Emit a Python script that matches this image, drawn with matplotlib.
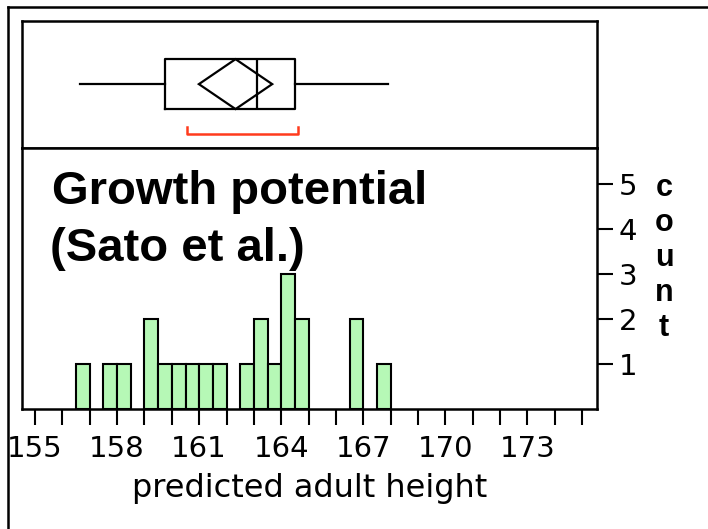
import matplotlib.pyplot as plt
from matplotlib.lines import Line2D
from matplotlib.patches import Polygon

# histogram of predicted adult height, 0.5 cm bins
bin_left = [156.5, 157.0, 157.5, 158.0, 158.5, 159.0, 159.5, 160.0, 160.5, 161.0, 161.5, 162.0,
            162.5, 163.0, 163.5, 164.0, 164.5, 165.0, 165.5, 166.0, 166.5, 167.0, 167.5]
counts = [1, 0, 1, 1, 0, 2, 1, 1, 1, 1, 1, 0,
          1, 2, 1, 3, 2, 0, 0, 0, 2, 0, 1]
bin_width = 0.5

# outlier box plot summary
whisker_lo = 156.65
q1 = 159.75
median = 163.1
q3 = 164.5
whisker_hi = 167.9
mean = 162.33
mean_ci = [160.99, 163.67]
shortest_half = [160.55, 164.6]

x_ticks = list(range(155, 176))
x_labels = [155, 158, 161, 164, 167, 170, 173]
y_ticks = [1, 2, 3, 4, 5]

W, H = 708, 529
lw = 1.8
fig = plt.figure(figsize=(W / 100, H / 100), dpi=100)

left, right = 22 / W, 597 / W
ax_box = fig.add_axes([left, 1 - 148 / H, right - left, (148 - 21) / H])
ax_hist = fig.add_axes([left, 1 - 409 / H, right - left, (409 - 148) / H])
xlim = (154.52, 175.55)

# box plot panel
ax_box.bxp([{'whislo': whisker_lo, 'q1': q1, 'med': median, 'q3': q3,
             'whishi': whisker_hi, 'fliers': []}],
           positions=[0.503], widths=0.393, orientation='horizontal',
           showcaps=False, showfliers=False,
           boxprops=dict(color='black', linewidth=1.6),
           whiskerprops=dict(color='black', linewidth=1.6),
           medianprops=dict(color='black', linewidth=1.6))
yc, half = 0.503, 0.1965
diamond = Polygon([(mean_ci[0], yc), (mean, yc + half), (mean_ci[1], yc), (mean, yc - half)],
                  closed=True, fill=False, edgecolor='black', linewidth=1.6)
ax_box.add_patch(diamond)
ax_box.plot([shortest_half[0], shortest_half[0], shortest_half[1], shortest_half[1]],
            [0.168, 0.11, 0.11, 0.168], color='#ff3b1d', linewidth=1.8)
ax_box.set_xlim(*xlim)
ax_box.set_ylim(0, 1)
ax_box.set_xticks([])
ax_box.set_yticks([])
for s in ax_box.spines.values():
    s.set_linewidth(lw)

# histogram panel
bars_x = [b for b, c in zip(bin_left, counts) if c > 0]
bars_h = [c for c in counts if c > 0]
ax_hist.bar(bars_x, bars_h, width=bin_width, align='edge', color='#b6f8b6',
            edgecolor='black', linewidth=1.5)
ax_hist.set_xlim(*xlim)
ax_hist.set_ylim(0, 5.8)
ax_hist.set_xticks(x_ticks)
ax_hist.set_xticklabels([str(t) if t in x_labels else '' for t in x_ticks],
                        fontsize=21, family='DejaVu Sans')
ax_hist.tick_params(axis='x', direction='out', length=11.5, width=1.5, pad=7.5)
ax_hist.yaxis.tick_right()
ax_hist.set_yticks(y_ticks)
ax_hist.set_yticklabels([str(t) for t in y_ticks], fontsize=21, family='DejaVu Sans')
ax_hist.tick_params(axis='y', direction='out', length=11.5, width=1.5, pad=4)
for s in ax_hist.spines.values():
    s.set_linewidth(lw)
ax_hist.set_xlabel('predicted adult height', fontsize=23, family='DejaVu Sans', labelpad=7)

fig.text(52 / W, 1 - 204 / H, 'Growth potential', fontsize=34, fontweight='bold',
         family='Liberation Sans', va='baseline')
fig.text(50 / W, 1 - 261 / H, '(Sato et al.)', fontsize=34, fontweight='bold',
         family='Liberation Sans', va='baseline')
fig.text(664 / W, 1 - 258 / H, 'c\no\nu\nn\nt', fontsize=22, fontweight='bold',
         family='Liberation Sans', ha='center', va='center', linespacing=1.22)

# outer frame
fig.add_artist(Line2D([8 / W, 8 / W], [0, 1 - 7 / H], color='black', linewidth=lw,
                      transform=fig.transFigure))
fig.add_artist(Line2D([8 / W, 1], [1 - 7 / H, 1 - 7 / H], color='black', linewidth=lw,
                      transform=fig.transFigure))

fig.savefig('out.png', dpi=100)
